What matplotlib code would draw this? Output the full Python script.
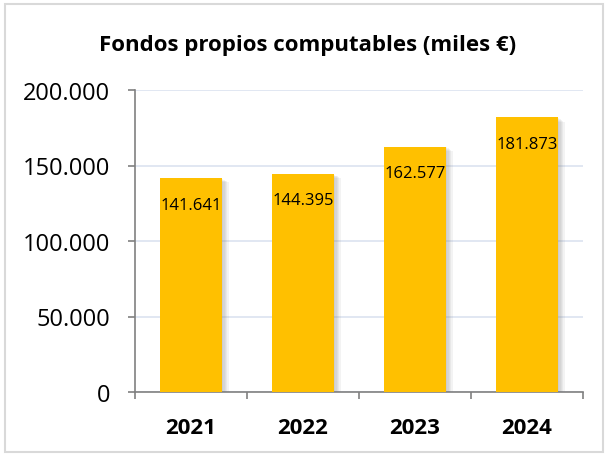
import matplotlib
matplotlib.use("Agg")
import matplotlib.pyplot as plt
import matplotlib.patheffects as pe
from matplotlib.patches import Rectangle

years = ["2021", "2022", "2023", "2024"]
values = [141641, 144395, 162577, 181873]
labels = ["141.641", "144.395", "162.577", "181.873"]
yticks = [0, 50000, 100000, 150000, 200000]
ytick_labels = ["0", "50.000", "100.000", "150.000", "200.000"]
title = "Fondos propios computables (miles €)"

plt.rcParams['font.family'] = ['Open Sans', 'DejaVu Sans']

fig = plt.figure(figsize=(6.06, 4.56), dpi=100)
fig.patches.append(Rectangle((5/606, 3/456), 598/606, 448/456, transform=fig.transFigure,
                             fill=False, edgecolor="#D9D9D9", linewidth=1.5))
ax = fig.add_axes([135/606, 1-393/456, 448/606, 302/456])

x = list(range(len(years)))
shadows = [pe.SimplePatchShadow(offset=(k, -k * 0.6), shadow_rgbFace="#7F7F7F", alpha=0.09)
           for k in (1, 2, 3, 4, 5)]
bars = ax.bar(x, values, width=0.55, color="#FFC000", zorder=3,
              path_effects=shadows + [pe.Normal()])

for xi, v, lab in zip(x, values, labels):
    ax.annotate(lab, (xi, v), xytext=(0, -19), textcoords="offset points",
                ha="center", va="center", fontsize=12, color="#000000", zorder=4)

ax.set_xlim(-0.5, 3.5)
ax.set_ylim(0, 200000)
ax.set_yticks(yticks)
ax.set_yticklabels(ytick_labels, fontsize=17)
ax.set_xticks(x)
ax.set_xticklabels(years, fontsize=16, fontweight="bold")
ax.set_xticks([-0.5, 0.5, 1.5, 2.5, 3.5], minor=True)
ax.tick_params(axis="x", which="major", length=0, pad=18)
ax.tick_params(axis="x", which="minor", length=5, color="#808080", width=1.2)
ax.tick_params(axis="y", length=5, color="#808080", width=1.2, pad=13)

ax.grid(axis="y", color="#DCE3F0", linewidth=1.2, zorder=0)
for s in ["top", "right"]:
    ax.spines[s].set_visible(False)
for s in ["left", "bottom"]:
    ax.spines[s].set_color("#808080")
    ax.spines[s].set_linewidth(1.2)

fig.text(308/606, 1-45/456, title, ha="center", va="center", fontsize=16, fontweight="bold")

fig.savefig("out.png", dpi=100)
